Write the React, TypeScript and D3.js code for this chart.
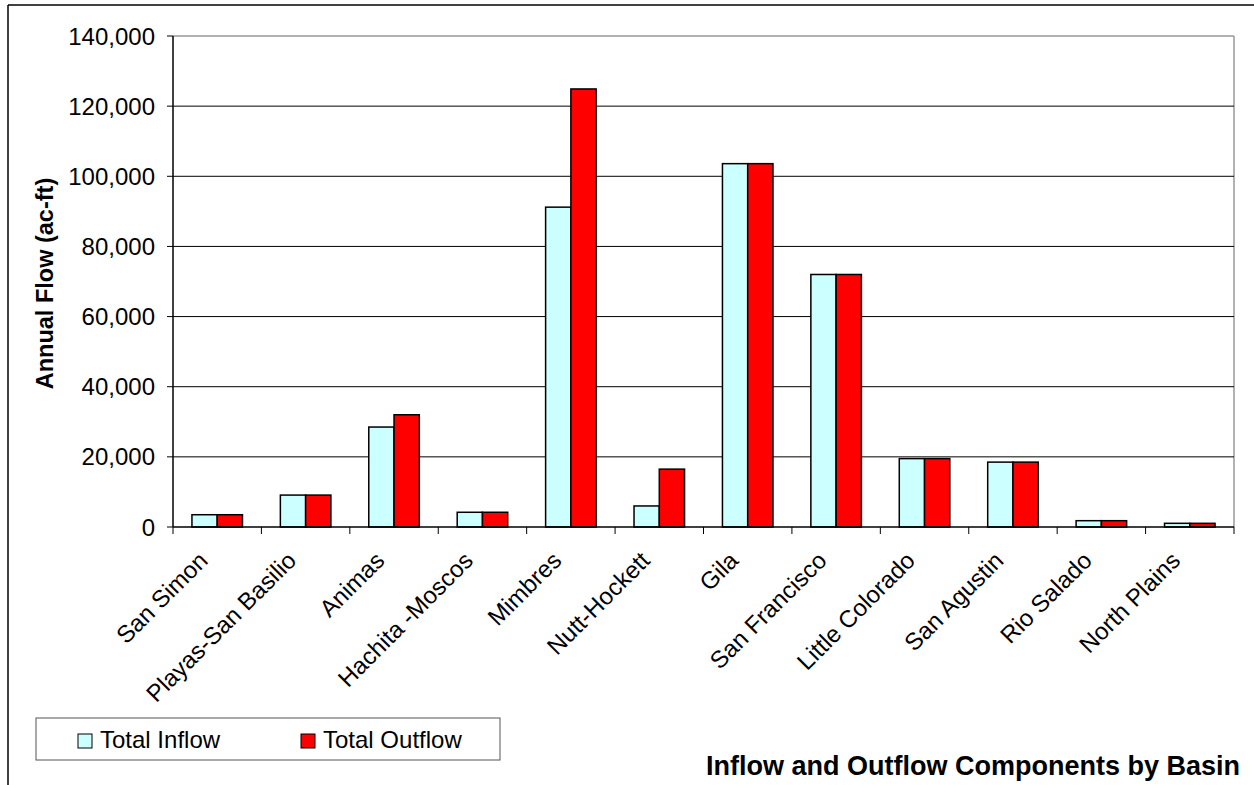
import React from "react";
import * as d3 from "d3";

const categories = ["San Simon", "Playas-San Basilio", "Animas", "Hachita -Moscos", "Mimbres", "Nutt-Hockett", "Gila", "San Francisco", "Little Colorado", "San Agustin", "Rio Salado", "North Plains"];
const inflow = [3500, 9100, 28500, 4200, 91200, 6000, 103600, 72000, 19500, 18500, 1800, 1050];
const outflow = [3500, 9100, 32000, 4200, 124900, 16500, 103600, 72000, 19500, 18500, 1800, 1050];
const yTicks = [0, 20000, 40000, 60000, 80000, 100000, 120000, 140000];
const seriesNames = ["Total Inflow", "Total Outflow"];
const seriesColors = ["#CCFFFF", "#FF0000"];

const FONT = "'Liberation Sans', Arial, sans-serif";

export default function App() {
  const W = 1254, H = 785;
  const left = 173, right = 1234, top = 36, bottom = 527;
  const x = d3.scaleBand<string>().domain(categories).range([left, right]).paddingInner(0).paddingOuter(0);
  const y = d3.scaleLinear().domain([0, 140000]).range([bottom, top]);
  const bw = x.bandwidth();
  const barW = bw / 3.5;
  const gapOff = (bw - 2 * barW) / 2;
  const fmt = d3.format(",");
  const series = [inflow, outflow];

  return (
    <svg width={W} height={H} style={{ position: "absolute", left: 0, top: 0 }} fontFamily={FONT}>
      <rect x={0} y={0} width={W} height={H} fill="#fff" />
      <line x1={8} y1={5} x2={W} y2={5} stroke="#000" strokeWidth={1.5} />
      <line x1={8} y1={5} x2={8} y2={H} stroke="#000" strokeWidth={1.5} />
      {/* plot border */}
      <line x1={left} y1={top} x2={right} y2={top} stroke="#999" strokeWidth={1.5} />
      <line x1={right} y1={top} x2={right} y2={bottom} stroke="#999" strokeWidth={1.5} />
      {yTicks.map((t) => (
        <g key={t}>
          {t > 0 && t < 140000 && (
            <line x1={left} x2={right} y1={y(t)} y2={y(t)} stroke="#000" strokeWidth={1} />
          )}
          <line x1={left - 6} x2={left} y1={y(t)} y2={y(t)} stroke="#000" strokeWidth={1} />
          <text x={155} y={y(t)} dy="0.36em" textAnchor="end" fontSize={24} fill="#000">{fmt(t)}</text>
        </g>
      ))}
      {categories.map((c, i) => (
        <g key={c}>
          {series.map((s, k) => (
            <rect key={k} x={(x(c) as number) + gapOff + k * barW} y={y(s[i])} width={barW} height={bottom - y(s[i])}
              fill={seriesColors[k]} stroke="#000" strokeWidth={1.5} />
          ))}
        </g>
      ))}
      {categories.concat([""]).map((c, i) => {
        const xx = left + i * bw;
        return <line key={"t" + i} x1={xx} x2={xx} y1={bottom} y2={bottom + 7} stroke="#000" strokeWidth={1} />;
      })}
      <line x1={left} x2={left} y1={top} y2={bottom} stroke="#000" strokeWidth={1.5} />
      <line x1={left} x2={right} y1={bottom} y2={bottom} stroke="#000" strokeWidth={1.5} />
      {categories.map((c) => {
        const cx = (x(c) as number) + bw / 2 - 8;
        const cy = 562;
        return (
          <text key={"l" + c} x={cx} y={cy} textAnchor="end" fontSize={24} fill="#000" transform={`rotate(-45 ${cx} ${cy})`}>{c}</text>
        );
      })}
      <text transform={`translate(53 283.5) rotate(-90)`} textAnchor="middle" fontSize={23.5} fontWeight="bold" fill="#000">Annual Flow (ac-ft)</text>
      {/* legend */}
      <rect x={36} y={718} width={464} height={42} fill="#fff" stroke="#555" strokeWidth={1} />
      {seriesNames.map((n, k) => {
        const lx = k === 0 ? 78 : 301;
        return (
          <g key={n}>
            <rect x={lx} y={734} width={14} height={14} fill={seriesColors[k]} stroke="#000" strokeWidth={1} />
            <text x={lx + 22} y={748} fontSize={24} fill="#000">{n}</text>
          </g>
        );
      })}
      <text x={1240} y={775} textAnchor="end" fontSize={27} fontWeight="bold" fill="#000">Inflow and Outflow Components by Basin</text>
    </svg>
  );
}
